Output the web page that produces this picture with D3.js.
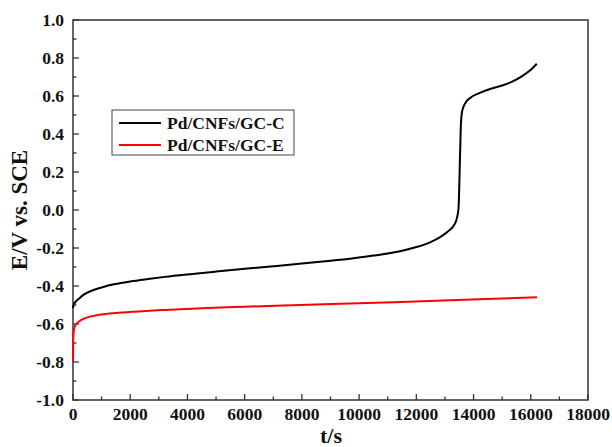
<!DOCTYPE html>
<html><head><meta charset="utf-8">
<script src="https://cdn.jsdelivr.net/npm/d3@7"></script>
<style>body{margin:0;background:#fff;} svg{display:block;}</style>
</head><body>
<svg id="c" width="612" height="447"></svg>
<script>
const seriesNames = ["Pd/CNFs/GC-C", "Pd/CNFs/GC-E"];
const seriesColors = ["#000000", "#ff0000"];
const timeC = [0, 20, 80, 185, 350, 650, 1000, 1470, 2000, 2690, 3215, 4000, 5000, 6190, 7000, 8000, 9000, 9690, 10500, 11000, 11430, 12000, 12480, 12830, 13100, 13350, 13470, 13530, 13560, 13600, 13700, 13880, 14200, 14575, 15000, 15330, 15700, 16000, 16210];
const valueC = [-0.516, -0.5, -0.485, -0.47, -0.448, -0.425, -0.408, -0.39, -0.376, -0.362, -0.352, -0.339, -0.324, -0.307, -0.296, -0.282, -0.267, -0.256, -0.24, -0.229, -0.217, -0.195, -0.17, -0.143, -0.113, -0.072, 0.0, 0.3, 0.46, 0.52, 0.56, 0.59, 0.615, 0.637, 0.655, 0.674, 0.705, 0.738, 0.77];
const timeE = [0, 8, 30, 80, 185, 450, 880, 1400, 2060, 2690, 3215, 4500, 6000, 7940, 10000, 12000, 13180, 15000, 16220];
const valueE = [-0.8, -0.69, -0.632, -0.608, -0.59, -0.568, -0.553, -0.543, -0.536, -0.53, -0.526, -0.517, -0.509, -0.5, -0.491, -0.481, -0.475, -0.466, -0.459];
const xTicks = [0, 2000, 4000, 6000, 8000, 10000, 12000, 14000, 16000, 18000];
const yTicks = [-1.0, -0.8, -0.6, -0.4, -0.2, 0.0, 0.2, 0.4, 0.6, 0.8, 1.0];

const svg = d3.select("#c");
const L = 73, R = 588, T = 20, B = 400;
const x = d3.scaleLinear().domain([0, 18000]).range([L, R]);
const y = d3.scaleLinear().domain([-1, 1]).range([B, T]);
const font = "'Liberation Serif','Times New Roman',serif";

svg.append("rect").attr("x", L).attr("y", T).attr("width", R - L).attr("height", B - T)
  .attr("fill", "none").attr("stroke", "#333").attr("stroke-width", 1.5);

const xMinor = d3.range(0, 18001, 1000);
svg.append("g").selectAll("line").data(xMinor).join("line")
  .attr("x1", d => x(d)).attr("x2", d => x(d))
  .attr("y1", B).attr("y2", d => B - (d % 2000 === 0 ? 6 : 3.5))
  .attr("stroke", "#333").attr("stroke-width", 1.3);
svg.append("g").selectAll("text").data(xTicks).join("text")
  .attr("x", d => x(d)).attr("y", 420).attr("text-anchor", "middle")
  .attr("font-family", font).attr("font-weight", "bold").attr("font-size", 17.5)
  .attr("fill", "#111").text(d => d);

const yMinor = d3.range(-10, 11).map(v => v / 10);
svg.append("g").selectAll("line").data(yMinor).join("line")
  .attr("x1", L).attr("x2", (d, i) => L + (i % 2 === 0 ? 6 : 3.5))
  .attr("y1", d => y(d)).attr("y2", d => y(d))
  .attr("stroke", "#333").attr("stroke-width", 1.3);
svg.append("g").selectAll("text").data(yTicks).join("text")
  .attr("x", 64).attr("y", d => y(d) + 6).attr("text-anchor", "end")
  .attr("font-family", font).attr("font-weight", "bold").attr("font-size", 17.5)
  .attr("fill", "#111").text(d => d.toFixed(1));

svg.append("text").attr("x", 331).attr("y", 443).attr("text-anchor", "middle")
  .attr("font-family", font).attr("font-weight", "bold").attr("font-size", 22)
  .attr("fill", "#111").text("t/s");
svg.append("text").attr("transform", "translate(27,210) rotate(-90)").attr("text-anchor", "middle")
  .attr("font-family", font).attr("font-weight", "bold").attr("font-size", 23)
  .attr("fill", "#111").text("E/V vs. SCE");

const line = d3.line().x(d => x(d[0])).y(d => y(d[1])).curve(d3.curveMonotoneX);
const dataC = timeC.map((t, i) => [t, valueC[i]]);
const dataE = timeE.map((t, i) => [t, valueE[i]]);
svg.append("path").attr("d", line(dataE)).attr("fill", "none").attr("stroke", seriesColors[1]).attr("stroke-width", 2);
svg.append("path").attr("d", line(dataC)).attr("fill", "none").attr("stroke", seriesColors[0]).attr("stroke-width", 2);

const lg = svg.append("g");
lg.append("rect").attr("x", 112).attr("y", 110).attr("width", 182).attr("height", 45)
  .attr("fill", "#fff").attr("stroke", "#444").attr("stroke-width", 1);
seriesNames.forEach((n, i) => {
  const yy = 123 + i * 22;
  lg.append("line").attr("x1", 119).attr("x2", 161).attr("y1", yy).attr("y2", yy)
    .attr("stroke", seriesColors[i]).attr("stroke-width", 2);
  lg.append("text").attr("x", 167).attr("y", yy + 6).attr("font-family", font)
    .attr("font-weight", "bold").attr("font-size", 17.5).attr("fill", "#111").text(n);
});
</script>
</body></html>
